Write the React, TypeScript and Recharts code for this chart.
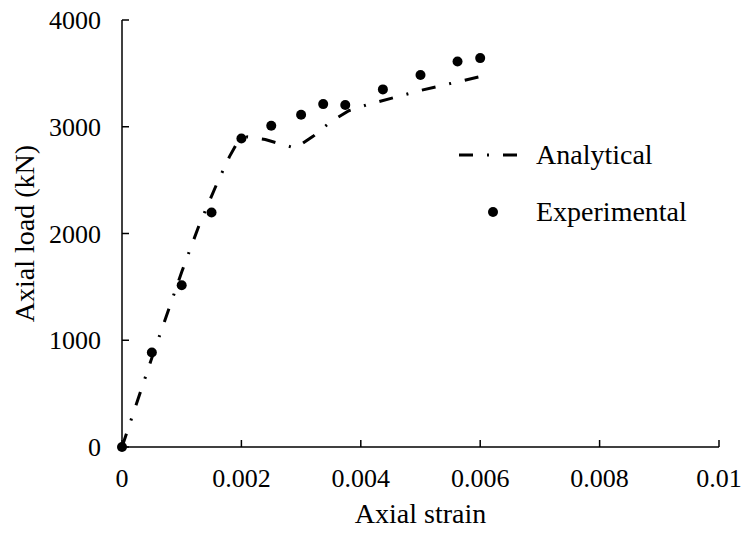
import React from 'react';
import {
  ComposedChart,
  Line,
  Scatter,
  XAxis,
  YAxis,
} from 'recharts';

// analytical curve (strain, load kN)
const analyticalStrain = [0, 0.0005, 0.001, 0.0013, 0.0016, 0.0018, 0.0019, 0.002, 0.0021, 0.0024, 0.0029, 0.0032, 0.0035, 0.0038, 0.0041, 0.005, 0.006];
const analyticalLoad = [0, 835, 1640, 2090, 2480, 2720, 2820, 2880, 2905, 2880, 2800, 2910, 3050, 3150, 3205, 3340, 3470];

// experimental points
const expStrain = [0, 0.0005, 0.001, 0.0015, 0.002, 0.0025, 0.003, 0.00337, 0.00374, 0.00437, 0.005, 0.00562, 0.006];
const expLoad = [0, 885, 1516, 2197, 2890, 3009, 3112, 3212, 3203, 3350, 3484, 3612, 3643];

const xTicks = [0, 0.002, 0.004, 0.006, 0.008, 0.01];
const yTicks = [0, 1000, 2000, 3000, 4000];

const FONT = '"Liberation Serif", "Times New Roman", serif';
const DASH = '14 14 2 14';

const analytical = analyticalStrain.map((x, i) => ({ x, y: analyticalLoad[i] }));
const experimental = expStrain.map((x, i) => ({ x, y: expLoad[i] }));

const XTick = ({ x, y, payload }: any) => (
  <g>
    <line x1={x} y1={y} x2={x} y2={y - 7} stroke="#000" strokeWidth={1.5} />
    <text x={x} y={y + 40} textAnchor="middle" fontFamily={FONT} fontSize={26} fill="#000">
      {String(payload.value)}
    </text>
  </g>
);

const YTick = ({ x, y, payload }: any) => (
  <g>
    <line x1={x} y1={y} x2={x + 7} y2={y} stroke="#000" strokeWidth={1.5} />
    <text x={x - 21} y={y} dy="0.35em" textAnchor="end" fontFamily={FONT} fontSize={26} fill="#000">
      {payload.value}
    </text>
  </g>
);

// legend drawn beside the chart, not through <Legend> (it steals plot height)
const LegendBox = () => (
  <svg width={260} height={100} style={{ position: 'absolute', left: 455, top: 135, overflow: 'visible' }}>
    <line x1={4} y1={20} x2={63} y2={20} stroke="#000" strokeWidth={3} strokeDasharray={DASH} />
    <text x={81} y={29} fontFamily={FONT} fontSize={28} fill="#000">Analytical</text>
    <circle cx={38} cy={77} r={5} fill="#000" />
    <text x={81} y={86} fontFamily={FONT} fontSize={28} fill="#000">Experimental</text>
  </svg>
);

export default function App() {
  return (
    <div style={{ position: 'fixed', left: 0, top: 0, width: 745, height: 533, background: '#fff' }}>
      <ComposedChart
        width={745}
        height={533}
        margin={{ top: 20, right: 26, left: 0, bottom: 0 }}
      >
        <XAxis
          type="number"
          dataKey="x"
          domain={[0, 0.01]}
          ticks={xTicks}
          tick={<XTick />}
          tickLine={false}
          tickSize={0}
          tickMargin={0}
          height={86}
          axisLine={{ stroke: '#000', strokeWidth: 1.5 }}
          label={{
            value: 'Axial strain',
            position: 'insideBottom',
            offset: 10,
            style: { fontFamily: FONT, fontSize: 28, fill: '#000' },
          }}
        />
        <YAxis
          type="number"
          dataKey="y"
          domain={[0, 4000]}
          ticks={yTicks}
          tick={<YTick />}
          tickLine={false}
          tickSize={0}
          tickMargin={0}
          width={122}
          axisLine={{ stroke: '#000', strokeWidth: 1.5 }}
          label={{
            value: 'Axial load (kN)',
            angle: -90,
            position: 'insideLeft',
            offset: 24,
            style: { fontFamily: FONT, fontSize: 28, fill: '#000', textAnchor: 'middle' },
          }}
        />
        <Line
          data={analytical}
          dataKey="y"
          type="linear"
          stroke="#000"
          strokeWidth={3}
          strokeDasharray={DASH}
          dot={false}
          activeDot={false}
          isAnimationActive={false}
          legendType="none"
        />
        <Scatter
          data={experimental}
          dataKey="y"
          fill="#000"
          shape={(p: any) => <circle cx={p.cx} cy={p.cy} r={5} fill="#000" />}
          isAnimationActive={false}
        />
      </ComposedChart>
      <LegendBox />
    </div>
  );
}
